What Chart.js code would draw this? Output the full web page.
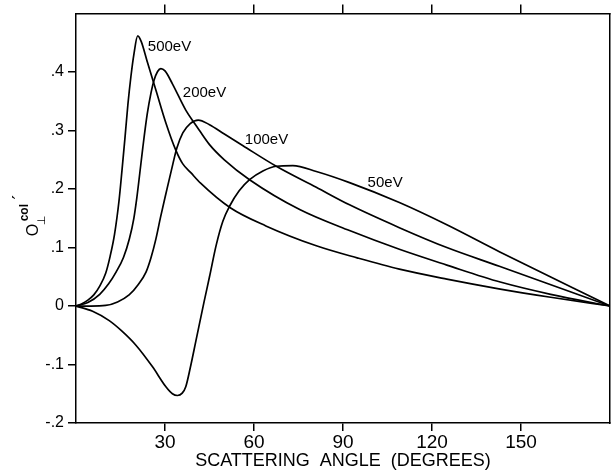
<!DOCTYPE html>
<html>
<head>
<meta charset="utf-8">
<script src="https://cdn.jsdelivr.net/npm/chart.js@4/dist/chart.umd.min.js"></script>
<style>
  body { margin: 0; background: #fff; }
</style>
</head>
<body>
<canvas id="grafico" width="611" height="474"></canvas>
<script>
// DADOS
const angulo500 = [0, 2, 4, 6, 8, 10, 11.5, 13, 14.5, 15.5, 16.5, 17.5, 18.5, 19.5, 20.8, 22, 24, 27, 30.3, 33.6, 36, 38.7, 42, 52, 64, 81, 95, 109, 125, 143, 160, 180];
const valor500 = [0, 0.004, 0.01, 0.019, 0.034, 0.056, 0.085, 0.123, 0.18, 0.232, 0.287, 0.345, 0.392, 0.43, 0.462, 0.452, 0.418, 0.368, 0.313, 0.267, 0.243, 0.228, 0.21, 0.168, 0.137, 0.103, 0.082, 0.063, 0.046, 0.029, 0.015, 0];

const angulo200 = [0, 4, 8, 11, 13.5, 16, 18, 19.5, 20.5, 21.5, 22.5, 24, 25.3, 26.3, 27.5, 28.6, 30, 32.5, 37, 40, 41.5, 45, 50, 58.5, 75.4, 92.2, 109, 125, 143, 160, 180];
const valor200 = [0, 0.006, 0.02, 0.038, 0.058, 0.083, 0.115, 0.15, 0.185, 0.227, 0.27, 0.328, 0.365, 0.386, 0.401, 0.406, 0.402, 0.38, 0.335, 0.312, 0.301, 0.276, 0.25, 0.216, 0.165, 0.129, 0.097, 0.07, 0.041, 0.02, 0];

const angulo100 = [0, 5, 10, 14, 17.9, 21, 23.6, 25.3, 26.9, 28.5, 30.3, 32.7, 34, 36, 38.5, 41.2, 45, 50, 56.3, 67.5, 81, 92.2, 109, 125, 142.7, 180];
const valor100 = [0, 0, 0.001, 0.007, 0.019, 0.037, 0.058, 0.083, 0.114, 0.152, 0.192, 0.244, 0.27, 0.296, 0.312, 0.318, 0.31, 0.294, 0.274, 0.239, 0.203, 0.173, 0.134, 0.1, 0.068, 0];

const angulo50 = [0, 5.6, 11.2, 15.5, 20.2, 25.8, 30.3, 32.5, 34.2, 35.8, 37, 38.5, 40.4, 43.2, 45, 47.3, 49.5, 51.8, 55, 58.5, 63, 67.5, 73.1, 81, 92.2, 109, 125, 142.7, 180];
const valor50 = [0, -0.009, -0.025, -0.043, -0.067, -0.104, -0.138, -0.15, -0.153, -0.149, -0.138, -0.106, -0.06, 0.008, 0.05, 0.105, 0.145, 0.171, 0.197, 0.216, 0.231, 0.239, 0.24, 0.23, 0.211, 0.177, 0.139, 0.093, 0];

const xTicks = [30, 60, 90, 120, 150];
const xTickLabels = ['30', '60', '90', '120', '150'];
const yTicks = [-0.2, -0.1, 0, 0.1, 0.2, 0.3, 0.4];
const yTickLabels = ['-.2', '-.1', '0', '.1', '.2', '.3', '.4'];

const rotulos = ['500eV', '200eV', '100eV', '50eV'];
const rotuloX = [24.2, 36.0, 56.9, 98.3];
const rotuloY = [0.443, 0.365, 0.284, 0.211];

function pontos(xs, ys) {
  return xs.map((x, i) => ({ x: x, y: ys[i] }));
}

function curva(xs, ys) {
  return {
    data: pontos(xs, ys),
    borderColor: '#000',
    borderWidth: 1.7,
    pointRadius: 0,
    cubicInterpolationMode: 'monotone',
    fill: false
  };
}

// RÓTULOS DAS CURVAS E DO EIXO Y
const pluginRotulos = {
  id: 'rotulos',
  afterDatasetsDraw(chart) {
    const ctx = chart.ctx;
    const sx = chart.scales.x;
    const sy = chart.scales.y;
    ctx.save();
    ctx.fillStyle = '#000';
    ctx.font = '15px "Liberation Sans"';
    ctx.textAlign = 'left';
    ctx.textBaseline = 'middle';
    rotulos.forEach((t, i) => {
      ctx.fillText(t, sx.getPixelForValue(rotuloX[i]), sy.getPixelForValue(rotuloY[i]));
    });

    // O col ⊥ ' girado
    const area = chart.chartArea;
    ctx.translate(sy.left + 38, (area.top + area.bottom) / 2 + 18);
    ctx.rotate(-Math.PI / 2);
    ctx.textBaseline = 'alphabetic';
    ctx.font = '16px "Liberation Sans"';
    ctx.fillText('O', 0, 0);
    ctx.font = 'bold 12px "Liberation Sans"';
    ctx.fillText('col', 15, -10);
    ctx.font = '11px "DejaVu Sans"';
    ctx.fillText('⊥', 11, 7);
    ctx.font = '18px "DejaVu Sans"';
    ctx.fillText('′', 37, -13);
    ctx.restore();
  }
};

const ctx = document.getElementById('grafico').getContext('2d');

new Chart(ctx, {
  type: 'line',
  data: {
    datasets: [
      curva(angulo500, valor500),
      curva(angulo200, valor200),
      curva(angulo100, valor100),
      curva(angulo50, valor50)
    ]
  },
  options: {
    responsive: false,
    animation: false,
    layout: { padding: 0 },
    plugins: {
      legend: { display: false },
      tooltip: { enabled: false }
    },
    scales: {
      x: {
        type: 'linear',
        position: 'bottom',
        min: 0,
        max: 180,
        afterBuildTicks: s => { s.ticks = xTicks.map(v => ({ value: v })); },
        afterFit: s => { s.height = 51; },
        border: { color: '#000', width: 1.5 },
        grid: { drawOnChartArea: false, color: '#000', lineWidth: 1.5, tickLength: 8 },
        ticks: {
          color: '#000',
          padding: 0,
          maxRotation: 0,
          font: { family: 'Liberation Sans', size: 19 },
          callback: (v, i) => xTickLabels[i]
        },
        title: {
          display: true,
          text: 'SCATTERING  ANGLE  (DEGREES)',
          color: '#000',
          padding: { top: 0, bottom: 2 },
          font: { family: 'Liberation Sans', size: 18 }
        }
      },
      x2: {
        type: 'linear',
        position: 'top',
        min: 0,
        max: 180,
        afterBuildTicks: s => { s.ticks = xTicks.map(v => ({ value: v })); },
        afterFit: s => { s.height = 10; },
        border: { color: '#000', width: 1.5 },
        grid: { drawOnChartArea: false, color: '#000', lineWidth: 1.5, tickLength: 9 },
        ticks: { display: false }
      },
      y: {
        position: 'left',
        min: -0.2,
        max: 0.5,
        afterBuildTicks: s => { s.ticks = yTicks.map(v => ({ value: v })); },
        afterFit: s => { s.width = 76; },
        border: { color: '#000', width: 1.5 },
        grid: { drawOnChartArea: false, color: '#000', lineWidth: 1.5, tickLength: 8 },
        ticks: {
          color: '#000',
          padding: 4,
          font: { family: 'Liberation Sans', size: 16 },
          callback: (v, i) => yTickLabels[i]
        }
      },
      y2: {
        position: 'right',
        min: -0.2,
        max: 0.5,
        afterFit: s => { s.width = 1; },
        border: { color: '#000', width: 1.5 },
        grid: { display: false, drawTicks: false },
        ticks: { display: false }
      }
    }
  },
  plugins: [pluginRotulos]
});
</script>
</body>
</html>
